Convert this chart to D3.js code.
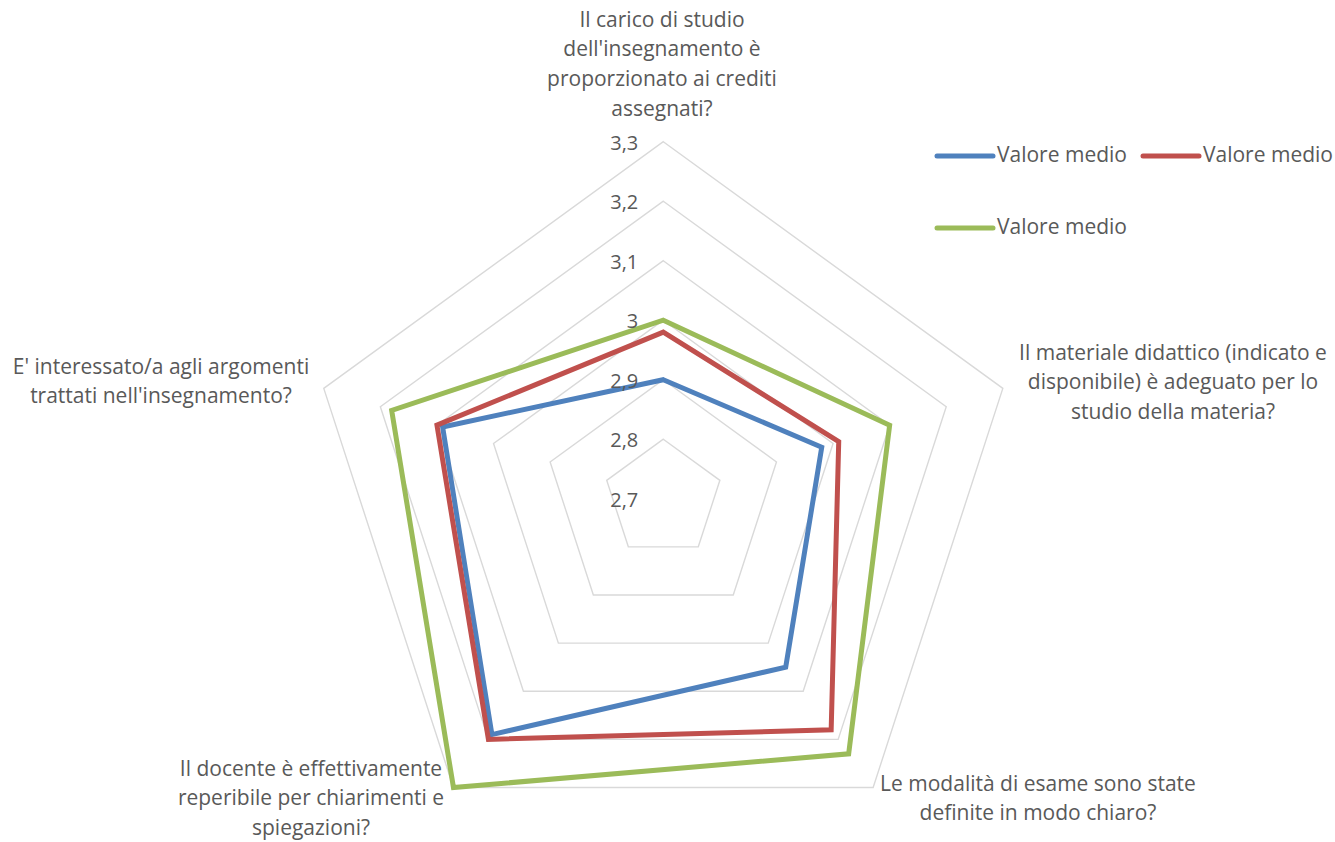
<!DOCTYPE html>
<html>
<head>
<meta charset="utf-8">
<script src="https://cdn.jsdelivr.net/npm/d3@7"></script>
<style>
  body { margin: 0; background: #fff; }
  text { font-family: "Open Sans", sans-serif; fill: #595959; }
</style>
</head>
<body>
<svg id="chart" width="1335" height="842"></svg>
<script>
const axisLabels = [
  ["Il carico di studio", "dell'insegnamento è", "proporzionato ai crediti", "assegnati?"],
  ["Il materiale didattico (indicato e", "disponibile) è adeguato per lo", "studio della materia?"],
  ["Le modalità di esame sono state", "definite in modo chiaro?"],
  ["Il docente è effettivamente", "reperibile per chiarimenti e", "spiegazioni?"],
  ["E' interessato/a agli argomenti", "trattati nell'insegnamento?"]
];
const seriesNames = ["Valore medio", "Valore medio", "Valore medio"];
const blueValues = [2.90, 2.98, 3.05, 3.19, 3.09];
const redValues = [2.98, 3.01, 3.18, 3.20, 3.10];
const greenValues = [3.00, 3.10, 3.23, 3.30, 3.18];
const ticks = [2.7, 2.8, 2.9, 3.0, 3.1, 3.2, 3.3];
const tickLabels = ["2,7", "2,8", "2,9", "3", "3,1", "3,2", "3,3"];

const colors = ["#4f81bd", "#c0504d", "#9bbb59"];
const series = [blueValues, redValues, greenValues];

const svg = d3.select('#chart');
const cx = 663.3, cy = 498.7;
const r = d3.scaleLinear().domain([2.7, 3.3]).range([0, 357]);
const angle = d3.scaleLinear().domain([0, 5]).range([0, 2 * Math.PI]);

const g = svg.append("g").attr("transform", `translate(${cx},${cy})`);

const ring = d3.lineRadial()
  .angle((d, i) => angle(i))
  .radius(d => r(d))
  .curve(d3.curveLinearClosed);

// grid rings
g.append("g")
  .selectAll("path")
  .data(ticks.slice(1))
  .join("path")
    .attr("d", t => ring([t, t, t, t, t]))
    .attr("fill", "none")
    .attr("stroke", "#d9d9d9")
    .attr("stroke-width", 1.4);

// series
g.append("g")
  .selectAll("path")
  .data(series)
  .join("path")
    .attr("d", d => ring(d))
    .attr("fill", "none")
    .attr("stroke", (d, i) => colors[i])
    .attr("stroke-width", 5)
    .attr("stroke-linejoin", "miter");

// tick labels
g.append("g")
  .selectAll("text")
  .data(ticks)
  .join("text")
    .attr("x", -25)
    .attr("y", t => -r(t) + 2.5)
    .attr("text-anchor", "end")
    .attr("dominant-baseline", "middle")
    .attr("font-size", 20)
    .text((t, i) => tickLabels[i]);

// axis labels: centre x and first line centre y per axis
const labelPos = [[662, 21], [1173, 354], [1038, 785], [311, 770], [161, 368]];
const lineH = 29.8;
svg.append("g")
  .selectAll("text")
  .data(axisLabels)
  .join("text")
    .attr("text-anchor", "middle")
    .attr("font-size", 21)
    .each(function(lines, i) {
      d3.select(this).selectAll("tspan")
        .data(lines)
        .join("tspan")
          .attr("x", labelPos[i][0])
          .attr("y", (l, j) => labelPos[i][1] + j * lineH)
          .attr("dominant-baseline", "middle")
          .text(l => l);
    });

// legend
const legendPos = [[937, 156], [1143, 156], [937, 228]];
const leg = svg.append("g")
  .selectAll("g")
  .data(seriesNames)
  .join("g")
    .attr("transform", (d, i) => `translate(${legendPos[i][0]},${legendPos[i][1]})`);
leg.append("line")
  .attr("x1", 0).attr("x2", 56)
  .attr("stroke", (d, i) => colors[i])
  .attr("stroke-width", 5)
  .attr("stroke-linecap", "round");
leg.append("text")
  .attr("x", 60)
  .attr("dominant-baseline", "middle")
  .attr("font-size", 21)
  .text(d => d);
</script>
</body>
</html>
